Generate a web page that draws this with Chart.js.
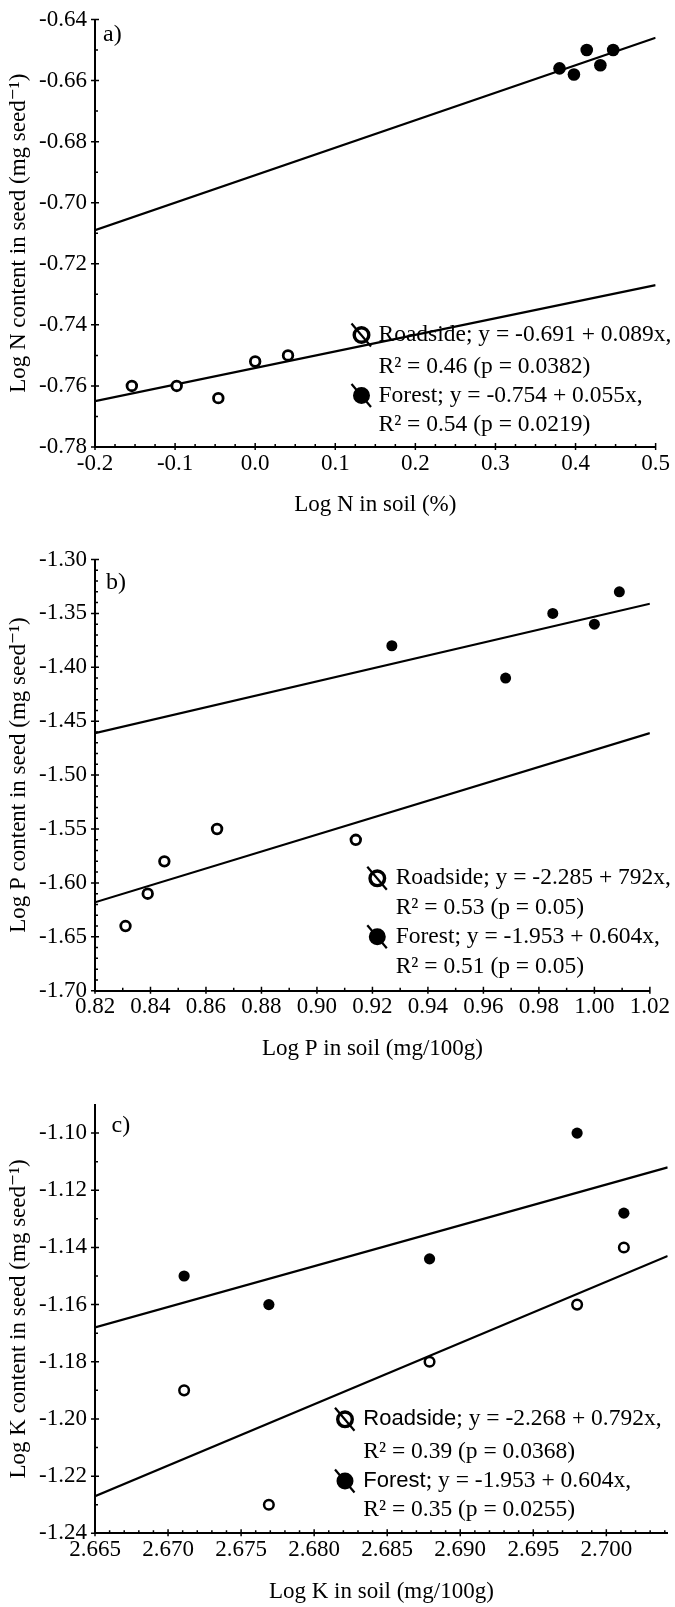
<!DOCTYPE html>
<html>
<head>
<meta charset="utf-8">
<script src="https://cdn.jsdelivr.net/npm/chart.js@4.4.1/dist/chart.umd.min.js"></script>
<style>
  html, body { margin: 0; padding: 0; background: #fff; }
  #wrap { position: relative; width: 675px; height: 1607px; }
  canvas { position: absolute; left: 0; }
</style>
</head>
<body>
<div id="wrap">
  <canvas id="chartA" width="675" height="540" style="top:0px"></canvas>
  <canvas id="chartB" width="675" height="545" style="top:540px"></canvas>
  <canvas id="chartC" width="675" height="522" style="top:1085px"></canvas>
</div>
<script>
// a) nitrogen
const nRoadsideSoil = [-0.154, -0.098, -0.046, 0.000, 0.041];
const nRoadsideSeed = [-0.760, -0.760, -0.764, -0.752, -0.750];
const nForestSoil = [0.380, 0.398, 0.414, 0.431, 0.447];
const nForestSeed = [-0.656, -0.658, -0.650, -0.655, -0.650];
const nFitX = [-0.2, 0.5];
const nFitUpper = [-0.709, -0.646];
const nFitLower = [-0.765, -0.727];
const nTicksX = [-0.2, -0.1, 0.0, 0.1, 0.2, 0.3, 0.4, 0.5];
const nTicksY = [-0.78, -0.76, -0.74, -0.72, -0.70, -0.68, -0.66, -0.64];
const nLegend = ['Roadside; y = -0.691 + 0.089x,', 'R² = 0.46 (p = 0.0382)',
                 'Forest; y = -0.754 + 0.055x,', 'R² = 0.54 (p = 0.0219)'];

// b) phosphorus
const pRoadsideSoil = [0.831, 0.839, 0.845, 0.864, 0.914];
const pRoadsideSeed = [-1.64, -1.61, -1.58, -1.55, -1.56];
const pForestSoil = [0.927, 0.968, 0.985, 1.000, 1.009];
const pForestSeed = [-1.38, -1.41, -1.35, -1.36, -1.33];
const pFitX = [0.82, 1.02];
const pFitUpper = [-1.461, -1.341];
const pFitLower = [-1.618, -1.461];
const pTicksX = [0.82, 0.84, 0.86, 0.88, 0.90, 0.92, 0.94, 0.96, 0.98, 1.00, 1.02];
const pTicksY = [-1.70, -1.65, -1.60, -1.55, -1.50, -1.45, -1.40, -1.35, -1.30];
const pLegend = ['Roadside; y = -2.285 + 792x,', 'R² = 0.53 (p = 0.05)',
                 'Forest; y = -1.953 + 0.604x,', 'R² = 0.51 (p = 0.05)'];

// c) potassium
const kRoadsideSoil = [2.6711, 2.6769, 2.6879, 2.6980, 2.7012];
const kRoadsideSeed = [-1.190, -1.230, -1.180, -1.160, -1.140];
const kForestSoil = [2.6711, 2.6769, 2.6879, 2.6980, 2.7012];
const kForestSeed = [-1.150, -1.160, -1.144, -1.100, -1.128];
const kFitX = [2.665, 2.7042];
const kFitUpper = [-1.168, -1.112];
const kFitLower = [-1.227, -1.143];
const kTicksX = [2.665, 2.670, 2.675, 2.680, 2.685, 2.690, 2.695, 2.700];
const kTicksY = [-1.24, -1.22, -1.20, -1.18, -1.16, -1.14, -1.12, -1.10];
const kLegend = ['Roadside; y = -2.268 + 0.792x,', 'R² = 0.39 (p = 0.0368)',
                 'Forest; y = -1.953 + 0.604x,', 'R² = 0.35 (p = 0.0255)'];

const SERIF = '"Liberation Serif", "Times New Roman", "DejaVu Serif", serif';
const SANS = '"Liberation Sans", Arial, sans-serif';

function zip(xs, ys) {
  return xs.map((x, i) => ({ x: x, y: ys[i] }));
}

function drawMarker(ctx, cx, cy, filled) {
  ctx.beginPath();
  ctx.lineWidth = 3.4;
  ctx.arc(cx, cy, filled ? 6.8 : 7.3, 0, Math.PI * 2);
  if (filled) { ctx.fill(); ctx.stroke(); } else ctx.stroke();
  ctx.beginPath();
  ctx.lineWidth = 2.2;
  ctx.moveTo(cx - 10, cy - 11.5);
  ctx.lineTo(cx + 9.5, cy + 11.5);
  ctx.stroke();
}

// minor ticks, major ticks, panel letter and the regression legend
const decorPlugin = {
  id: 'decor',
  afterDraw(chart, args, o) {
    const ctx = chart.ctx;
    const a = chart.chartArea;
    const sx = chart.scales.x, sy = chart.scales.y;
    ctx.save();
    ctx.strokeStyle = '#000';
    ctx.fillStyle = '#000';
    ctx.lineWidth = 1.5;
    ctx.beginPath();
    let n = Math.round((o.xMinor[1] - o.xMinor[0]) / o.xMinor[2]);
    for (let i = 0; i <= n; i++) {
      const px = sx.getPixelForValue(o.xMinor[0] + i * o.xMinor[2]);
      ctx.moveTo(px, a.bottom); ctx.lineTo(px, a.bottom - 3);
    }
    n = Math.round((o.yMinor[1] - o.yMinor[0]) / o.yMinor[2]);
    for (let i = 0; i <= n; i++) {
      const py = sy.getPixelForValue(o.yMinor[0] + i * o.yMinor[2]);
      ctx.moveTo(a.left, py); ctx.lineTo(a.left + 3, py);
    }
    sx.ticks.forEach(t => {
      const px = sx.getPixelForValue(t.value);
      ctx.moveTo(px, a.bottom + 3); ctx.lineTo(px, a.bottom - 4);
    });
    sy.ticks.forEach(t => {
      const py = sy.getPixelForValue(t.value);
      ctx.moveTo(a.left - 4, py); ctx.lineTo(a.left + 4, py);
    });
    ctx.stroke();

    ctx.textAlign = 'left';
    ctx.textBaseline = 'middle';
    ctx.font = '24px ' + SERIF;
    ctx.fillText(o.letter, o.letterX, o.letterY);

    const lg = o.legend;
    lg.lines.forEach((txt, i) => {
      const ly = lg.y[i];
      if (i === 0 || i === 2) drawMarker(ctx, lg.markerX, ly, i === 2);
      let x = lg.textX;
      if (lg.sansNames && txt.indexOf(';') > 0) {
        const name = txt.slice(0, txt.indexOf(';'));
        ctx.font = '22px ' + SANS;
        ctx.fillText(name, x, ly);
        x += ctx.measureText(name).width;
        txt = txt.slice(name.length);
      }
      ctx.font = '23.5px ' + SERIF;
      ctx.fillText(txt, x, ly);
    });
    ctx.restore();
  }
};

function buildPanel(id, p) {
  const tickFont = { family: SERIF, size: 23, lineHeight: 1 };
  const titleFont = { family: SERIF, size: 23, lineHeight: 1.2 };
  return new Chart(document.getElementById(id), {
    type: 'scatter',
    data: {
      datasets: [
        { label: 'Forest', data: zip(p.forestX, p.forestY), pointStyle: 'circle',
          pointRadius: p.dotR, backgroundColor: '#000', borderColor: '#000', borderWidth: 0 },
        { label: 'Roadside', data: zip(p.roadX, p.roadY), pointStyle: 'circle',
          pointRadius: p.ringR, backgroundColor: '#fff', borderColor: '#000', borderWidth: p.ringW },
        { label: 'fit upper', data: zip(p.fitX, p.fitUpper), showLine: true, pointRadius: 0,
          borderColor: '#000', borderWidth: 2.2, fill: false },
        { label: 'fit lower', data: zip(p.fitX, p.fitLower), showLine: true, pointRadius: 0,
          borderColor: '#000', borderWidth: 2.2, fill: false }
      ]
    },
    options: {
      responsive: false,
      animation: false,
      layout: { padding: p.pad },
      plugins: {
        legend: { display: false },
        tooltip: { enabled: false },
        decor: p.decor
      },
      scales: {
        x: {
          type: 'linear', min: p.xRange[0], max: p.xRange[1],
          afterBuildTicks: s => { s.ticks = p.ticksX.map(v => ({ value: v })); },
          afterFit: s => { s.height = 72; },
          grid: { display: false, drawTicks: false },
          border: { display: true, color: '#000', width: 2 },
          ticks: { padding: 5, color: '#000', font: tickFont, maxRotation: 0, autoSkip: false,
                   callback: v => v.toFixed(p.xDec) },
          title: { display: true, text: p.xTitle, color: '#000', font: titleFont, padding: 0 }
        },
        y: {
          type: 'linear', min: p.yRange[0], max: p.yRange[1],
          afterBuildTicks: s => { s.ticks = p.ticksY.map(v => ({ value: v })); },
          afterFit: s => { s.width = 95; },
          grid: { display: false, drawTicks: false },
          border: { display: true, color: '#000', width: 2 },
          ticks: { padding: 8, color: '#000', font: tickFont, autoSkip: false,
                   callback: v => v.toFixed(2) },
          title: { display: true, text: p.yTitle, color: '#000', font: titleFont,
                   padding: { top: 5, bottom: 0 } }
        }
      }
    },
    plugins: [decorPlugin]
  });
}

buildPanel('chartA', {
  forestX: nForestSoil, forestY: nForestSeed, roadX: nRoadsideSoil, roadY: nRoadsideSeed,
  fitX: nFitX, fitUpper: nFitUpper, fitLower: nFitLower,
  ticksX: nTicksX, ticksY: nTicksY, xRange: [-0.2, 0.5], yRange: [-0.78, -0.64], xDec: 1,
  dotR: 6.3, ringR: 4.8, ringW: 2.8,
  xTitle: 'Log N in soil (%)', yTitle: 'Log N content in seed (mg seed⁻¹)',
  pad: { top: 12, right: 18, bottom: 21, left: 0 },
  decor: {
    xMinor: [-0.2, 0.5, 0.025], yMinor: [-0.78, -0.64, 0.01],
    letter: 'a)', letterX: 103, letterY: 35,
    legend: { markerX: 361.5, textX: 378.5, y: [335, 366.5, 395.5, 425], lines: nLegend }
  }
});

buildPanel('chartB', {
  forestX: pForestSoil, forestY: pForestSeed, roadX: pRoadsideSoil, roadY: pRoadsideSeed,
  fitX: pFitX, fitUpper: pFitUpper, fitLower: pFitLower,
  ticksX: pTicksX, ticksY: pTicksY, xRange: [0.82, 1.02], yRange: [-1.70, -1.30], xDec: 2,
  dotR: 5.5, ringR: 4.8, ringW: 2.8,
  xTitle: 'Log P in soil (mg/100g)', yTitle: 'Log P content in seed (mg seed⁻¹)',
  pad: { top: 15, right: 24, bottom: 22.3, left: 0 },
  decor: {
    xMinor: [0.82, 1.02, 0.01], yMinor: [-1.70, -1.30, 0.01],
    letter: 'b)', letterX: 106, letterY: 43,
    legend: { markerX: 377.3, textX: 395.7, y: [338.3, 368.3, 396.7, 426.7], lines: pLegend }
  }
});

buildPanel('chartC', {
  forestX: kForestSoil, forestY: kForestSeed, roadX: kRoadsideSoil, roadY: kRoadsideSeed,
  fitX: kFitX, fitUpper: kFitUpper, fitLower: kFitLower,
  ticksX: kTicksX, ticksY: kTicksY, xRange: [2.665, 2.7042], yRange: [-1.24, -1.09], xDec: 3,
  dotR: 5.6, ringR: 4.8, ringW: 2.5,
  xTitle: 'Log K in soil (mg/100g)', yTitle: 'Log K content in seed (mg seed⁻¹)',
  pad: { top: 14, right: 5, bottom: 1.7, left: 0 },
  decor: {
    xMinor: [2.665, 2.704, 0.001], yMinor: [-1.24, -1.10, 0.01],
    letter: 'c)', letterX: 111.5, letterY: 41,
    legend: { markerX: 345, textX: 363.3, y: [334.3, 366.7, 396, 425], lines: kLegend, sansNames: true }
  }
});
</script>
</body>
</html>
